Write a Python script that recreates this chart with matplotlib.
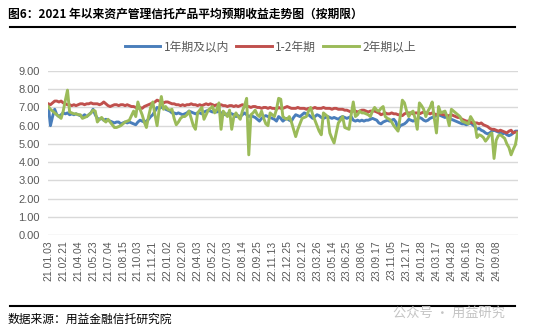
import numpy as np
import matplotlib
matplotlib.use("Agg")
import matplotlib.pyplot as plt
from matplotlib.lines import Line2D

plt.rcParams['font.family'] = ['Noto Sans CJK SC', 'DejaVu Sans']

# tick labels every 7 points
tick_labels = ['21.01.03', '21.02.21', '21.04.04', '21.05.23', '21.07.04', '21.08.15',
               '21.10.03', '21.11.21', '22.01.02', '22.02.20', '22.04.03', '22.05.22',
               '22.07.03', '22.08.14', '22.09.25', '22.11.13', '22.12.25', '23.02.12',
               '23.03.26', '23.05.14', '23.06.25', '23.08.06', '23.09.17', '23.11.05',
               '23.12.17', '24.01.28', '24.03.17', '24.04.28', '24.06.16', '24.07.28',
               '24.09.08']

short_term = [  # 1年期及以内
    7.1, 6.0, 6.5, 6.9, 6.6, 6.5, 6.6, 6.7, 6.65, 6.7,
    6.6, 6.65, 6.6, 6.65, 6.6, 6.55, 6.5, 6.6, 6.5, 6.6,
    6.7, 6.9, 6.6, 6.4, 6.35, 6.4, 6.3, 6.35, 6.3, 6.25,
    6.2, 6.15, 6.2, 6.2, 6.1, 6.15, 6.2, 6.15, 6.2, 6.15,
    6.1, 6.05, 6.2, 6.3, 6.25, 6.2, 6.25, 6.35, 6.5, 6.6,
    6.8, 7.0, 6.95, 7.0, 7.0, 6.9, 6.85, 6.8, 6.7, 6.7,
    6.65, 6.7, 6.65, 6.6, 6.65, 6.7, 6.8, 6.75, 6.7, 6.65,
    6.7, 6.7, 6.65, 6.75, 6.8, 6.85, 6.8, 6.75, 6.8, 6.75,
    6.8, 6.7, 6.65, 6.6, 6.65, 6.7, 6.65, 6.6, 6.5, 6.55,
    6.5, 6.6, 6.7, 6.6, 6.5, 6.55, 6.5, 6.45, 6.35, 6.25,
    6.4, 6.5, 6.55, 6.5, 6.45, 6.4, 6.35, 6.25, 6.5, 6.4,
    6.25, 6.35, 6.4, 6.3, 6.25, 6.45, 6.6, 6.55, 6.5, 6.6,
    6.7, 6.65, 6.6, 6.5, 6.4, 6.5, 6.6, 6.55, 6.45, 6.4,
    6.45, 6.5, 6.45, 6.4, 6.45, 6.4, 6.35, 6.45, 6.5, 6.45,
    6.4, 6.45, 6.5, 6.3, 6.25, 6.3, 6.25, 6.3, 6.25, 6.3,
    6.3, 6.35, 6.4, 6.35, 6.3, 6.15, 6.1, 6.2, 6.25, 6.3,
    6.25, 6.3, 6.35, 6.2, 5.8, 6.0, 6.05, 6.1, 6.2, 6.35,
    6.3, 6.25, 6.3, 6.35, 6.45, 6.4, 6.3, 6.25, 6.3, 6.4,
    6.45, 6.5, 6.55, 6.6, 6.55, 6.5, 6.45, 6.5, 6.4, 6.35,
    6.3, 6.25, 6.2, 6.15, 6.1, 6.1, 6.05, 6.1, 6.15, 6.05,
    5.95, 5.8, 5.85, 5.75, 5.7, 5.6, 5.55, 5.6, 5.7, 5.75,
    5.7, 5.65, 5.6, 5.55, 5.6, 5.5, 5.45, 5.5, 5.6, 5.7,
    5.7,
]

mid_term = [  # 1-2年期
    7.2, 7.15, 7.25, 7.35, 7.35, 7.3, 7.35, 7.25, 7.2, 7.15,
    7.15, 7.1, 7.15, 7.1, 7.15, 7.2, 7.2, 7.15, 7.2, 7.2,
    7.25, 7.2, 7.2, 7.2, 7.15, 7.2, 7.3, 7.2, 7.1, 7.05,
    7.1, 7.15, 7.15, 7.1, 7.15, 7.15, 7.1, 7.15, 7.1, 7.05,
    7.05, 7.0, 6.95, 7.0, 6.95, 7.05, 7.1, 7.15, 7.2, 7.25,
    7.3, 7.4, 7.35, 7.3, 7.25, 7.3, 7.3, 7.25, 7.2, 7.2,
    7.15, 7.15, 7.1, 7.15, 7.1, 7.15, 7.15, 7.2, 7.15, 7.15,
    7.1, 7.15, 7.1, 7.15, 7.2, 7.15, 7.2, 7.15, 7.1, 7.15,
    7.1, 7.15, 7.1, 7.1, 7.05, 7.1, 7.1, 7.05, 7.1, 7.05,
    7.1, 7.15, 7.1, 7.05, 7.05, 7.0, 7.05, 7.05, 7.0, 7.0,
    6.95, 7.0, 7.0, 6.95, 7.0, 6.95, 6.95, 6.9, 7.0, 6.95,
    6.95, 7.0, 7.05, 7.0, 6.95, 6.95, 6.95, 7.0, 6.95, 6.95,
    6.95, 6.9, 6.95, 6.95, 6.95, 7.0, 6.95, 6.95, 6.95, 7.0,
    6.95, 6.95, 6.95, 6.9, 6.95, 6.95, 6.9, 6.9, 6.9, 6.85,
    6.85, 6.8, 6.75, 6.8, 6.8, 6.75, 6.8, 6.85, 6.85, 6.8,
    6.75, 6.8, 6.8, 6.8, 6.75, 6.7, 6.6, 6.65, 6.7, 6.65,
    6.65, 6.7, 6.65, 6.65, 6.6, 6.6, 6.55, 6.65, 6.7, 6.7,
    6.7, 6.65, 6.7, 6.7, 6.65, 6.7, 6.75, 6.7, 6.7, 6.65,
    6.7, 6.65, 6.6, 6.65, 6.65, 6.6, 6.6, 6.55, 6.55, 6.6,
    6.55, 6.5, 6.45, 6.45, 6.35, 6.3, 6.25, 6.25, 6.2, 6.15,
    6.15, 6.15, 6.1, 6.15, 6.05, 6.0, 5.95, 5.85, 5.8, 5.8,
    5.75, 5.7, 5.75, 5.7, 5.65, 5.6, 5.7, 5.75, 5.6, 5.65,
    5.65,
]

long_term = [  # 2年期以上
    7.05, 6.9, 6.8, 6.7, 6.6, 6.5, 6.4, 6.8, 7.4, 7.95,
    6.75, 6.7, 6.65, 6.65, 6.6, 6.6, 6.4, 6.45, 6.5, 6.6,
    6.7, 6.85, 6.8, 6.2, 6.35, 6.45, 6.3, 6.2, 6.35, 6.2,
    6.05, 5.9, 5.9, 5.95, 6.0, 6.1, 6.2, 6.25, 6.3, 6.55,
    6.8, 6.5, 7.3, 6.9, 6.6, 6.2, 5.9, 6.5, 7.0, 7.3,
    6.6, 6.0, 6.9, 7.6, 6.9, 7.05, 6.9, 6.85, 6.9, 6.4,
    6.05, 6.2, 6.4, 6.5, 6.5, 6.6, 6.8, 6.4, 6.0, 5.8,
    6.7, 6.85, 7.0, 6.35, 6.6, 6.85, 6.95, 7.05, 6.7, 6.9,
    7.25, 5.8, 6.8, 6.65, 6.5, 6.85, 5.8, 6.5, 6.7, 6.5,
    6.35, 6.8, 7.1, 7.5, 4.4, 6.6, 6.7, 6.85, 6.6, 6.5,
    6.8, 6.4, 6.1, 6.0, 6.7, 6.6, 6.5, 6.9, 7.5, 7.45,
    6.5, 6.4, 6.35, 6.5, 6.2, 5.8, 5.4, 5.8, 6.1, 6.4,
    6.45, 6.5, 6.8, 7.0, 6.6, 6.3, 6.0, 5.7, 5.5, 6.7,
    6.6, 6.5, 5.6, 5.3, 5.05, 5.6, 6.15, 6.3, 6.5, 5.9,
    5.85, 5.8, 6.6, 7.3, 6.5, 6.6, 6.8, 6.7, 6.7, 6.65,
    6.6, 6.5, 6.8, 7.0, 6.85, 6.8, 6.95, 7.05, 6.5, 6.4,
    6.35, 6.2, 6.0, 5.85, 5.7, 6.5, 7.4, 7.25, 6.8, 6.5,
    6.7, 6.8, 6.4, 5.8, 7.25, 7.1, 6.9, 6.5, 6.8, 7.0,
    7.3, 6.4, 5.6, 7.05, 6.7, 6.75, 6.8, 6.5, 6.0, 6.9,
    6.8, 6.7, 6.6, 6.5, 6.25, 6.2, 6.15, 6.1, 6.5, 6.3,
    6.1, 5.35, 5.5, 5.45, 5.35, 5.15, 5.3, 5.5, 5.6, 4.2,
    5.2, 5.45, 5.5, 5.4, 5.3, 5.0, 4.8, 4.4, 4.7, 4.95,
    5.6,
]

series_names = ['1年期及以内', '1-2年期', '2年期以上']
colors = ['#4a7ebb', '#c0504d', '#9bbb59']

W, H = 541, 334
fig = plt.figure(figsize=(W / 100, H / 100), dpi=100)

# title and rules
fig.text(8 / W, 1 - 14 / H, '图6：2021 年以来资产管理信托产品平均预期收益走势图（按期限）',
         fontsize=8.5, fontweight='bold', va='center', ha='left')
fig.add_artist(Line2D([10 / W, 515 / W], [1 - 27 / H, 1 - 27 / H], color='black', lw=1.5))
fig.add_artist(Line2D([10 / W, 515 / W], [1 - 306 / H, 1 - 306 / H], color='black', lw=1.5))
fig.text(8 / W, 1 - 319 / H, '数据来源：用益金融信托研究院', fontsize=8.5,
         va='center', ha='left')
fig.text(505 / W, 1 - 313 / H, '公众号 · 用益研究', fontsize=9.5, color='#c4c4c4',
         va='center', ha='right')

ax = fig.add_axes([48.3 / W, 1 - 235 / H, (517.5 - 48.3) / W, (235 - 71) / H])

x = np.arange(len(short_term))
ax.plot(x, short_term, color=colors[0], lw=2.1, label=series_names[0], zorder=3)
ax.plot(x, mid_term, color=colors[1], lw=2.1, label=series_names[1], zorder=3)
ax.plot(x, long_term, color=colors[2], lw=2.1, label=series_names[2], zorder=4)

ax.set_xlim(0, len(short_term) - 1)
ax.set_ylim(0, 9)
ax.set_yticks(np.arange(0, 10, 1))
ax.set_yticklabels(['%.2f' % v for v in np.arange(0, 10, 1)],
                   fontsize=8, color='#595959', family='Liberation Sans')
ax.set_xticks(np.arange(len(tick_labels)) * 7)
ax.set_xticklabels(tick_labels, rotation=90, fontsize=7.5, color='#595959',
                   family='Liberation Sans')
ax.tick_params(length=0, pad=4)
ax.tick_params(axis='y', pad=6)
ax.grid(axis='y', color='#d9d9d9', lw=1)
ax.set_axisbelow(True)
for s in ax.spines.values():
    s.set_visible(False)

fig.legend(loc='center', bbox_to_anchor=(0.5, 1 - 47 / H), ncol=3, frameon=False,
           fontsize=8.5, labelcolor='#595959', handlelength=3.0, handletextpad=0.3,
           columnspacing=0.6)

fig.savefig('out.png', dpi=100)
